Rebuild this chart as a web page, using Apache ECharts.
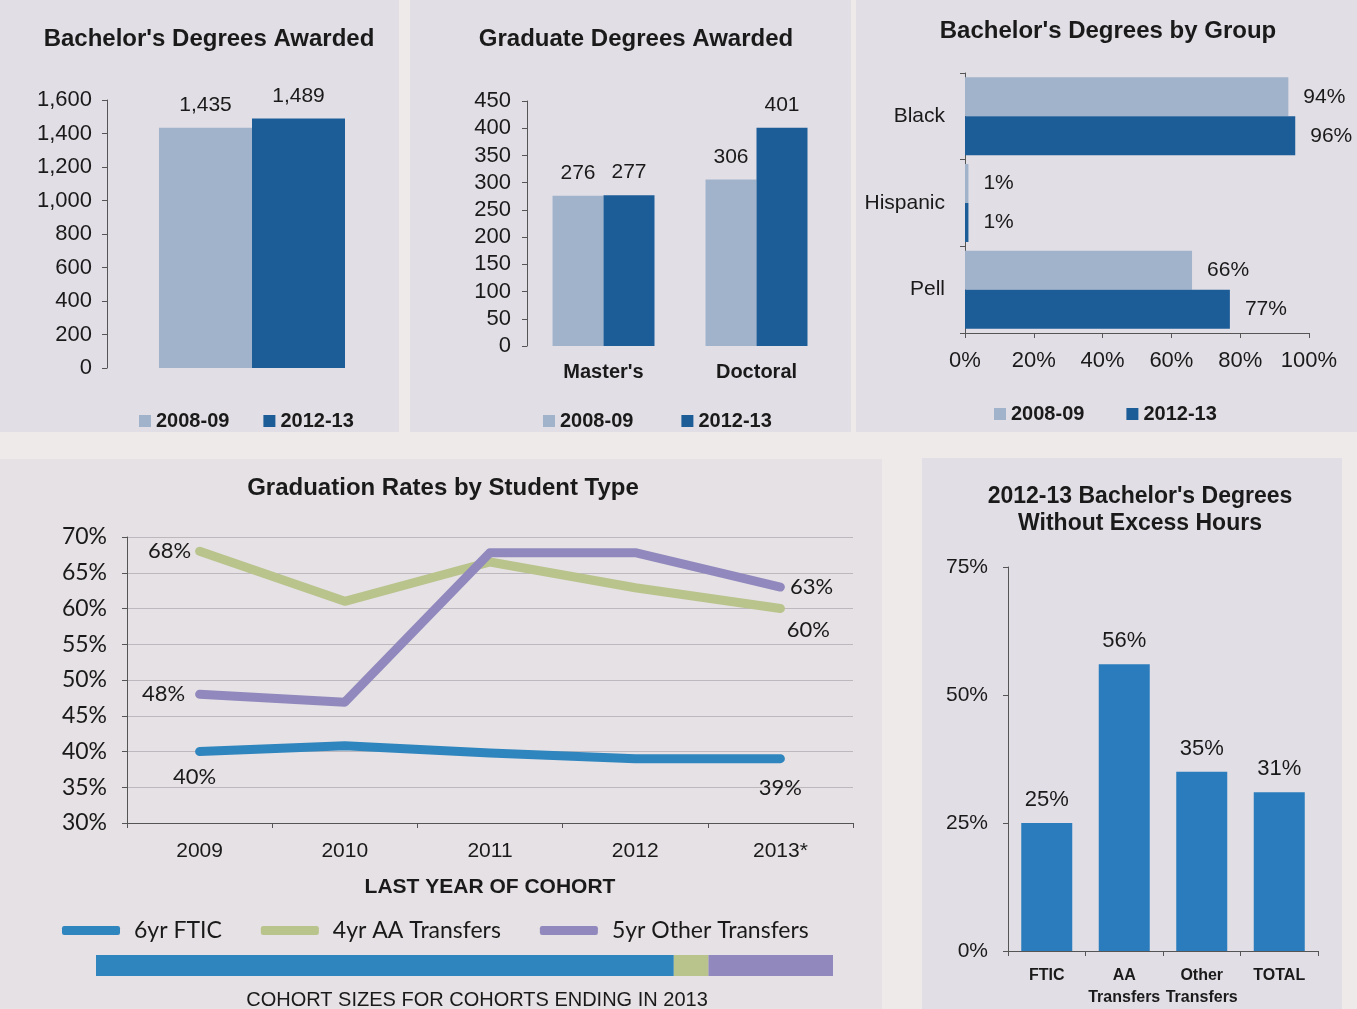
<!DOCTYPE html>
<html>
<head>
<meta charset="utf-8">
<script src="https://cdn.jsdelivr.net/npm/echarts@6/dist/echarts.min.js"></script>
<style>
  html, body { margin: 0; padding: 0; background: #eeeae9; }
  #chart { width: 1357px; height: 1009px; }
</style>
</head>
<body>
<div id="chart"></div>
<script>
// ---- data ----
const seasons = ['2008-09', '2012-13'];
const bachelors = [1435, 1489];

const gradCats = ["Master's", 'Doctoral'];
const grad0809 = [276, 306];
const grad1213 = [277, 401];

const groupCats = ['Black', 'Hispanic', 'Pell'];
const group0809 = [94, 1, 66];
const group1213 = [96, 1, 77];

const cohortYears = ['2009', '2010', '2011', '2012', '2013*'];
const studentTypes = ['6yr FTIC', '4yr AA Transfers', '5yr Other Transfers'];
const ftic = [40, 40.8, 39.8, 39, 39];
const aaTransfers = [68, 61, 66.5, 62.9, 60];
const otherTransfers = [48, 46.9, 67.8, 67.8, 63];
// share of each cohort in 2013
const cohortShares = [78.4, 4.7, 16.9];

const excessCats = ['FTIC', 'AA\nTransfers', 'Other\nTransfers', 'TOTAL'];
const excessPct = [25, 56, 35, 31];

// ---- styles ----
const LIGHT = '#a1b3cb';
const DARK = '#1c5d97';
const MID = '#2a7cbd';
const lineColors = ['#2f85be', '#b9c38c', '#9189bd'];
const NARROW = "'Liberation Sans Narrow', 'Arial Narrow', 'Liberation Sans', sans-serif";
const ARIAL = "'Liberation Sans', Arial, sans-serif";
const CAL = "Lato, 'Open Sans', sans-serif";
const PANEL = '#e2dee5';

const chart = echarts.init(document.getElementById('chart'));

function txt(size, bold, family) {
  return { fontSize: size, fontWeight: bold ? 'bold' : 'normal', fontFamily: family || NARROW, color: '#1a1a1a' };
}
const axisLine = { show: true, lineStyle: { color: '#555', width: 1 } };
const axisTick = { show: true, length: 5, lineStyle: { color: '#555' } };

function pointLabel(i, n, first, last) {
  if (i === 0) return first;
  if (i === n - 1) return last;
  return { show: false };
}
function lineData(values, first, last) {
  return values.map((v, i) => ({ value: v, label: pointLabel(i, values.length, first, last) }));
}
const pctLabel = p => Math.round(p.value) + '%';
function lbl(position, extra) {
  return Object.assign({ show: true, position: position, formatter: pctLabel, ...txt(22, false, CAL) }, extra || {});
}

const option = {
  backgroundColor: '#eeeae9',
  animation: false,
  graphic: [
    { type: 'rect', z: -10, silent: true, shape: { x: 0, y: 0, width: 399, height: 432 }, style: { fill: PANEL } },
    { type: 'rect', z: -10, silent: true, shape: { x: 410, y: 0, width: 441, height: 432 }, style: { fill: PANEL } },
    { type: 'rect', z: -10, silent: true, shape: { x: 856, y: 0, width: 501, height: 432 }, style: { fill: PANEL } },
    { type: 'rect', z: -10, silent: true, shape: { x: 0, y: 459, width: 882, height: 550 }, style: { fill: '#e6e1e4' } },
    { type: 'rect', z: -10, silent: true, shape: { x: 922, y: 458, width: 420, height: 551 }, style: { fill: PANEL } }
  ],
  title: [
    { text: "Bachelor's Degrees Awarded", left: 204, top: 22, textAlign: 'center', textStyle: txt(24, true, ARIAL) },
    { text: 'Graduate Degrees Awarded', left: 631, top: 22, textAlign: 'center', textStyle: txt(24, true, ARIAL) },
    { text: "Bachelor's Degrees by Group", left: 1103, top: 14, textAlign: 'center', textStyle: txt(24, true, ARIAL) },
    { text: 'Graduation Rates by Student Type', left: 438, top: 471, textAlign: 'center', textStyle: txt(24, true) },
    { text: "2012-13 Bachelor's Degrees\nWithout Excess Hours", left: 1135, top: 478, textAlign: 'center',
      textStyle: Object.assign(txt(23, true, ARIAL), { lineHeight: 27 }) },
    { text: 'COHORT SIZES FOR COHORTS ENDING IN 2013', left: 472, top: 985, textAlign: 'center', textStyle: txt(20, false) }
  ],
  legend: [
    { data: seasons, left: 134, top: 406, itemWidth: 12, itemHeight: 12, itemGap: 34, icon: 'rect',
      textStyle: txt(20, true), selectedMode: false },
    { data: seasons, left: 538, top: 406, itemWidth: 12, itemHeight: 12, itemGap: 48, icon: 'rect',
      textStyle: txt(20, true), selectedMode: false },
    { data: seasons, left: 989, top: 399, itemWidth: 12, itemHeight: 12, itemGap: 42, icon: 'rect',
      textStyle: txt(20, true), selectedMode: false },
    { data: studentTypes, left: 57, top: 914, itemWidth: 58, itemHeight: 9, itemGap: 39, icon: 'roundRect',
      textStyle: Object.assign(txt(23, false, CAL), { padding: [0, 0, 0, 9] }), selectedMode: false }
  ],
  grid: [
    { left: 107, top: 100, width: 290, height: 268 },
    { left: 527, top: 101, width: 306, height: 245 },
    { left: 965, top: 73, width: 344, height: 260 },
    { left: 127, top: 537, width: 726, height: 286 },
    { left: 1008, top: 567, width: 310, height: 384 },
    { left: 96, top: 955, width: 737, height: 21 }
  ],
  xAxis: [
    { gridIndex: 0, type: 'category', data: ['Bachelor'], axisLine: { show: false }, axisTick: { show: false }, axisLabel: { show: false } },
    { gridIndex: 1, type: 'category', data: gradCats, axisLine: { show: false }, axisTick: { show: false },
      axisLabel: Object.assign({ margin: 16, interval: 0 }, txt(20, true)) },
    { gridIndex: 2, type: 'value', min: 0, max: 100, interval: 20, axisLine: axisLine,
      axisTick: { show: true, length: 5, inside: false, lineStyle: { color: '#555' } }, splitLine: { show: false },
      axisLabel: Object.assign({ margin: 17, formatter: '{value}%' }, txt(22)) },
    { gridIndex: 3, type: 'category', data: cohortYears, axisLine: axisLine, axisTick: axisTick,
      name: 'LAST YEAR OF COHORT', nameLocation: 'middle', nameGap: 54, nameTextStyle: txt(21, true),
      axisLabel: Object.assign({ margin: 18, interval: 0 }, txt(21)) },
    { gridIndex: 4, type: 'category', data: excessCats, axisLine: axisLine, axisTick: axisTick,
      axisLabel: Object.assign({ margin: 14, lineHeight: 22, interval: 0 }, txt(16, true)) },
    { gridIndex: 5, type: 'value', min: 0, max: 100, show: false }
  ],
  yAxis: [
    { gridIndex: 0, type: 'value', min: 0, max: 1600, interval: 200, axisLine: axisLine, axisTick: axisTick, splitLine: { show: false },
      axisLabel: Object.assign({ margin: 15, formatter: v => v.toLocaleString('en-US') }, txt(22)) },
    { gridIndex: 1, type: 'value', min: 0, max: 450, interval: 50, axisLine: axisLine, axisTick: axisTick, splitLine: { show: false },
      axisLabel: Object.assign({ margin: 16 }, txt(22)) },
    { gridIndex: 2, type: 'category', data: groupCats, inverse: true, axisLine: axisLine, axisTick: axisTick,
      axisLabel: Object.assign({ margin: 20 }, txt(21)) },
    { gridIndex: 3, type: 'value', min: 30, max: 70, interval: 5, axisLine: axisLine, axisTick: axisTick,
      splitLine: { show: true, lineStyle: { color: '#bdb8bd', width: 1 } },
      axisLabel: Object.assign({ margin: 20, formatter: '{value}%' }, txt(23, false, CAL)) },
    { gridIndex: 4, type: 'value', min: 0, max: 75, interval: 25, axisLine: axisLine, axisTick: axisTick, splitLine: { show: false },
      axisLabel: Object.assign({ margin: 20, formatter: '{value}%' }, txt(21)) },
    { gridIndex: 5, type: 'category', data: ['2013'], show: false }
  ],
  series: [
    // Bachelor's awarded
    { name: seasons[0], type: 'bar', xAxisIndex: 0, yAxisIndex: 0, data: [bachelors[0]], barWidth: 93, barGap: '0%',
      itemStyle: { color: LIGHT },
      label: { show: true, position: 'top', distance: 12, formatter: p => p.value.toLocaleString('en-US'), ...txt(21) } },
    { name: seasons[1], type: 'bar', xAxisIndex: 0, yAxisIndex: 0, data: [bachelors[1]], barWidth: 93, barGap: '0%',
      itemStyle: { color: DARK },
      label: { show: true, position: 'top', distance: 12, formatter: p => p.value.toLocaleString('en-US'), ...txt(21) } },
    // Graduate awarded
    { name: seasons[0], type: 'bar', xAxisIndex: 1, yAxisIndex: 1, data: grad0809, barWidth: 51, barGap: '0%',
      itemStyle: { color: LIGHT }, label: { show: true, position: 'top', distance: 12, ...txt(21) } },
    { name: seasons[1], type: 'bar', xAxisIndex: 1, yAxisIndex: 1, data: grad1213, barWidth: 51, barGap: '0%',
      itemStyle: { color: DARK }, label: { show: true, position: 'top', distance: 12, ...txt(21) } },
    // By group
    { name: seasons[0], type: 'bar', xAxisIndex: 2, yAxisIndex: 2, data: group0809, barWidth: 39, barGap: '0%',
      itemStyle: { color: LIGHT }, label: { show: true, position: 'right', distance: 15, formatter: '{c}%', ...txt(21) } },
    { name: seasons[1], type: 'bar', xAxisIndex: 2, yAxisIndex: 2, data: group1213, barWidth: 39, barGap: '0%',
      itemStyle: { color: DARK }, label: { show: true, position: 'right', distance: 15, formatter: '{c}%', ...txt(21) } },
    // Graduation rates
    { name: studentTypes[0], type: 'line', xAxisIndex: 3, yAxisIndex: 3, symbol: 'circle', symbolSize: 1,
      itemStyle: { color: lineColors[0] }, lineStyle: { width: 9, color: lineColors[0], cap: 'round', join: 'round' },
      data: lineData(ftic, lbl('bottom', { distance: 14, offset: [-5, 0] }), lbl('bottom', { distance: 18 })) },
    { name: studentTypes[1], type: 'line', xAxisIndex: 3, yAxisIndex: 3, symbol: 'circle', symbolSize: 1,
      itemStyle: { color: lineColors[1] }, lineStyle: { width: 9, color: lineColors[1], cap: 'round', join: 'round' },
      data: lineData(aaTransfers, lbl('left', { distance: 8 }), lbl('bottom', { distance: 10, offset: [28, 0] })) },
    { name: studentTypes[2], type: 'line', xAxisIndex: 3, yAxisIndex: 3, symbol: 'circle', symbolSize: 1,
      itemStyle: { color: lineColors[2] }, lineStyle: { width: 9, color: lineColors[2], cap: 'round', join: 'round' },
      data: lineData(otherTransfers, lbl('left', { distance: 14 }), lbl('right', { distance: 9 })) },
    // Excess hours
    { name: 'Without excess hours', type: 'bar', xAxisIndex: 4, yAxisIndex: 4, data: excessPct, barWidth: 51,
      itemStyle: { color: MID }, label: { show: true, position: 'top', distance: 12, formatter: '{c}%', ...txt(22) } },
    // Cohort size strip
    ...cohortShares.map((v, i) => ({
      name: 'cohort ' + studentTypes[i], type: 'bar', stack: 'cohort', xAxisIndex: 5, yAxisIndex: 5,
      data: [v], barWidth: 21, itemStyle: { color: lineColors[i] }
    }))
  ]
};

chart.setOption(option);
window.addEventListener('resize', () => chart.resize());
</script>
</body>
</html>
